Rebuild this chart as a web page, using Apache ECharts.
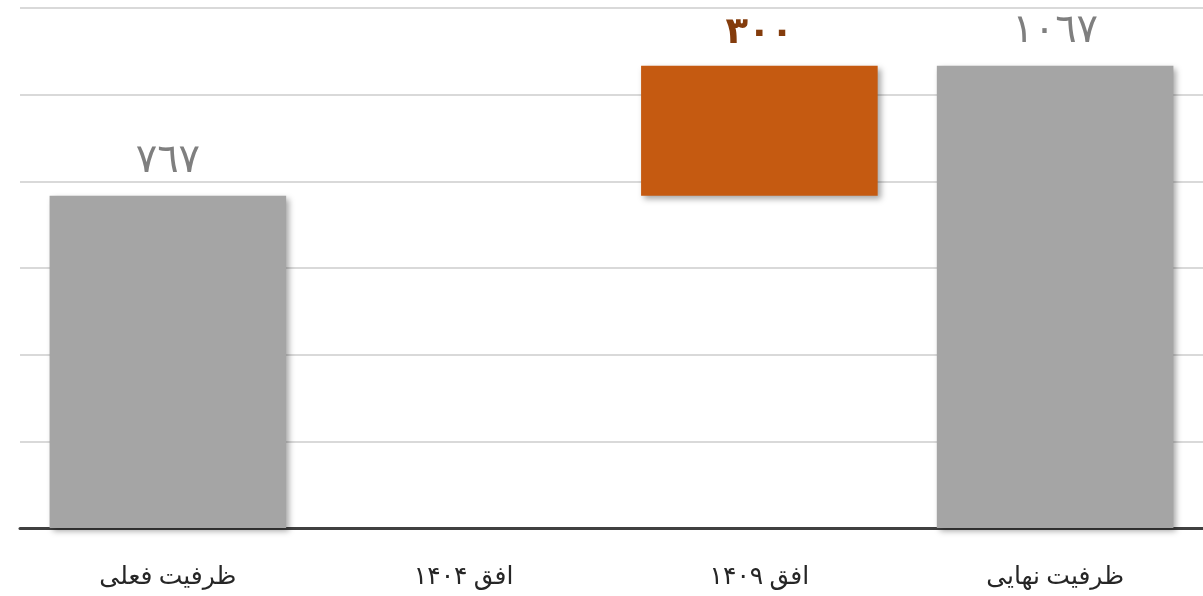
<!DOCTYPE html>
<html>
<head>
<meta charset="utf-8">
<script src="https://cdn.jsdelivr.net/npm/echarts@6/dist/echarts.min.js"></script>
<style>
  html, body { margin: 0; padding: 0; background: #fff; }
  #chart { width: 1203px; height: 596px; }
</style>
</head>
<body>
<div id="chart"></div>
<script>
var categories = ['ظرفیت فعلی', 'افق ۱۴۰۴', 'افق ۱۴۰۹', 'ظرفیت نهایی'];
var baseValues = [0, 0, 767, 0];
var barValues = [767, '-', 300, 1067];
var valueLabels = ['٧٦٧', '', '۳۰۰', '١٠٦٧'];
var barColors = ['#a5a5a5', '#a5a5a5', '#c55a11', '#a5a5a5'];
var labelColors = ['#7f7f7f', '#7f7f7f', '#843c0c', '#7f7f7f'];

var fontFamily = '"Liberation Serif", "DejaVu Sans", serif';
var shadow = {
  shadowColor: 'rgba(0,0,0,0.35)',
  shadowBlur: 6,
  shadowOffsetX: 3,
  shadowOffsetY: 3
};

var chart = echarts.init(document.getElementById('chart'));

var option = {
  animation: false,
  grid: { left: 20, width: 1187, top: 8, bottom: 68 },
  xAxis: {
    type: 'category',
    data: categories,
    axisLine: { lineStyle: { color: '#404040', width: 3 } },
    axisTick: { show: false },
    axisLabel: { color: '#262626', fontSize: 25, fontFamily: fontFamily, margin: 37 }
  },
  yAxis: {
    type: 'value',
    min: 0,
    max: 1200,
    interval: 200,
    axisLine: { show: false },
    axisTick: { show: false },
    axisLabel: { show: false },
    splitLine: { lineStyle: { color: '#d9d9d9', width: 2 } }
  },
  series: [
    {
      type: 'bar',
      stack: 'w',
      barWidth: '80%',
      itemStyle: { color: 'transparent' },
      silent: true,
      data: baseValues
    },
    {
      type: 'bar',
      stack: 'w',
      barWidth: '80%',
      data: barValues.map(function (v, i) {
        return {
          value: v,
          itemStyle: Object.assign({ color: barColors[i] }, shadow),
          label: {
            show: v !== '-',
            position: 'top',
            distance: 14,
            formatter: valueLabels[i],
            color: labelColors[i],
            fontSize: i === 2 ? 37 : 40,
            fontWeight: i === 2 ? 'bold' : 'normal',
            fontFamily: fontFamily
          }
        };
      })
    }
  ]
};

chart.setOption(option);
</script>
</body>
</html>
